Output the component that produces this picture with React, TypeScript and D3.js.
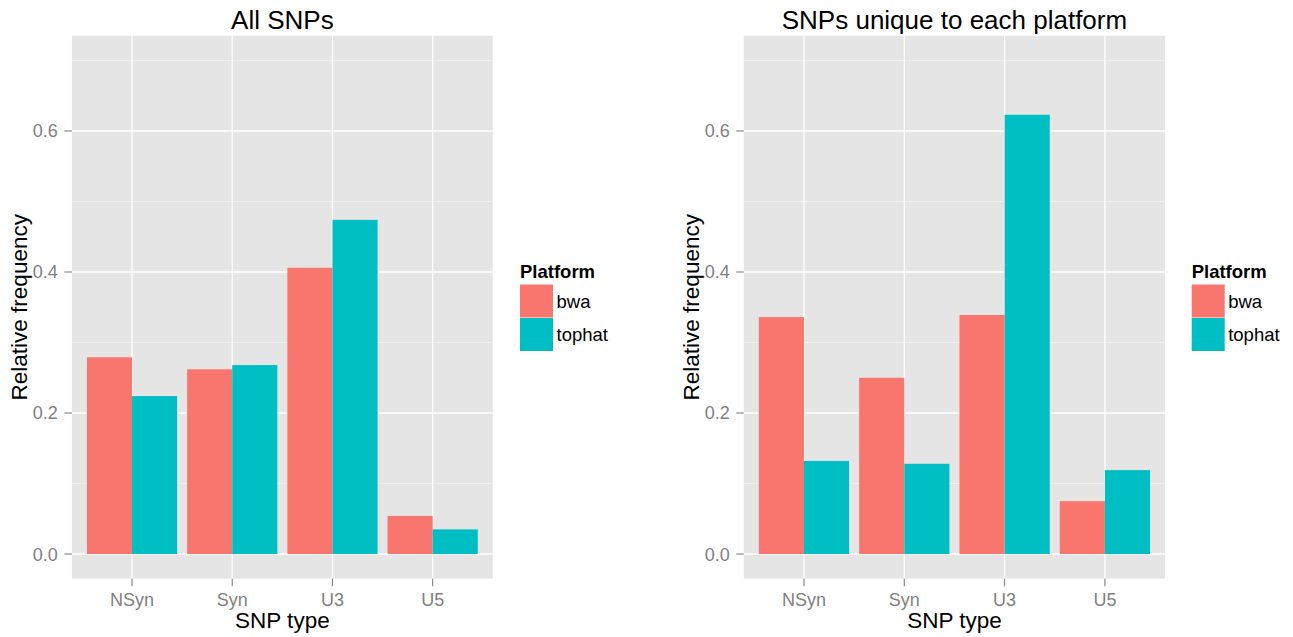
import React from "react";
import * as d3 from "d3";

const snpTypes = ["NSyn", "Syn", "U3", "U5"];
const platforms = ["bwa", "tophat"];
const platformColors = ["#F8766D", "#00BFC4"];

// Relative frequencies, all SNPs
const allBwa = [0.279, 0.262, 0.406, 0.054];
const allTophat = [0.224, 0.268, 0.474, 0.035];

// Relative frequencies, SNPs unique to each platform
const uniqueBwa = [0.336, 0.250, 0.339, 0.075];
const uniqueTophat = [0.132, 0.128, 0.623, 0.119];

const yTicks = [0, 0.2, 0.4, 0.6];
const yMinor = [0.1, 0.3, 0.5, 0.7];
const yLimits = [0, 0.7];

const panelTitles = ["All SNPs", "SNPs unique to each platform"];
const xTitle = "SNP type";
const yTitle = "Relative frequency";
const legendTitle = "Platform";

const W = 1293;
const H = 637;
const FONT = "'Liberation Sans', Arial, Helvetica, sans-serif";

type PanelProps = {
  left: number;
  width: number;
  top: number;
  height: number;
  title: string;
  series: number[][];
};

function Panel({ left, width, top, height, title, series }: PanelProps) {
  const span = yLimits[1] - yLimits[0];
  const y = d3
    .scaleLinear()
    .domain([yLimits[0] - 0.05 * span, yLimits[1] + 0.05 * span])
    .range([top + height, top]);
  const x = d3
    .scalePoint<string>()
    .domain(snpTypes)
    .range([left, left + width])
    .padding(0.6);
  const step = x.step();
  const dodge = d3
    .scaleBand<string>()
    .domain(platforms)
    .range([-0.45 * step, 0.45 * step]);

  const cx = left + width / 2;
  const bottom = top + height;

  return (
    <g>
      <rect x={left} y={top} width={width} height={height} fill="#E5E5E5" />
      {yMinor.map((v) => (
        <line
          key={"mn" + v}
          x1={left}
          x2={left + width}
          y1={y(v)}
          y2={y(v)}
          stroke="#F2F2F2"
          strokeWidth={0.8}
        />
      ))}
      {yTicks.map((v) => (
        <line
          key={"mj" + v}
          x1={left}
          x2={left + width}
          y1={y(v)}
          y2={y(v)}
          stroke="#FFFFFF"
          strokeWidth={1.3}
        />
      ))}
      {snpTypes.map((c) => (
        <line
          key={"vx" + c}
          x1={x(c)}
          x2={x(c)}
          y1={top}
          y2={bottom}
          stroke="#FFFFFF"
          strokeWidth={1.3}
        />
      ))}
      {snpTypes.map((c, i) =>
        platforms.map((p, j) => {
          const v = series[j][i];
          return (
            <rect
              key={c + p}
              x={(x(c) as number) + (dodge(p) as number)}
              width={dodge.bandwidth()}
              y={y(v)}
              height={y(0) - y(v)}
              fill={platformColors[j]}
            />
          );
        })
      )}
      {/* y axis ticks and labels */}
      {yTicks.map((v) => (
        <g key={"yt" + v}>
          <line
            x1={left - 7.5}
            x2={left}
            y1={y(v)}
            y2={y(v)}
            stroke="#7F7F7F"
            strokeWidth={1.1}
          />
          <text
            x={left - 14}
            y={y(v)}
            dy="0.36em"
            textAnchor="end"
            fontSize={18}
            fill="#7F7F7F"
            fontFamily={FONT}
          >
            {d3.format(".1f")(v)}
          </text>
        </g>
      ))}
      {/* x axis ticks and labels */}
      {snpTypes.map((c) => (
        <g key={"xt" + c}>
          <line
            x1={x(c)}
            x2={x(c)}
            y1={bottom}
            y2={bottom + 7.5}
            stroke="#7F7F7F"
            strokeWidth={1.1}
          />
          <text
            x={x(c)}
            y={bottom + 27.5}
            textAnchor="middle"
            fontSize={18}
            fill="#7F7F7F"
            fontFamily={FONT}
          >
            {c}
          </text>
        </g>
      ))}
      <text
        x={cx}
        y={top - 6.5}
        textAnchor="middle"
        fontSize={26}
        fill="#000"
        fontFamily={FONT}
      >
        {title}
      </text>
      <text
        x={cx}
        y={bottom + 49}
        textAnchor="middle"
        fontSize={22.5}
        fill="#000"
        fontFamily={FONT}
      >
        {xTitle}
      </text>
      <text
        transform={`translate(${left - 45},${top + height / 2}) rotate(-90)`}
        textAnchor="middle"
        fontSize={22.5}
        fill="#000"
        fontFamily={FONT}
      >
        {yTitle}
      </text>
    </g>
  );
}

function Legend({ x, y }: { x: number; y: number }) {
  const key = 33;
  return (
    <g>
      <text
        x={x}
        y={y}
        fontSize={18.5}
        fontWeight="bold"
        fill="#000"
        fontFamily={FONT}
      >
        {legendTitle}
      </text>
      {platforms.map((p, i) => (
        <g key={p}>
          <rect
            x={x}
            y={y + 6.5 + i * (key + 0.5)}
            width={key}
            height={key}
            fill={platformColors[i]}
          />
          <text
            x={x + key + 3.5}
            y={y + 6.5 + i * (key + 0.5) + key / 2}
            dy="0.36em"
            fontSize={18.5}
            fill="#000"
            fontFamily={FONT}
          >
            {p}
          </text>
        </g>
      ))}
    </g>
  );
}

export default function App() {
  const top = 35.8;
  const height = 542.9;
  return (
    <svg
      width={W}
      height={H}
      style={{ position: "absolute", left: 0, top: 0, background: "#fff" }}
    >
      <rect x={0} y={0} width={W} height={H} fill="#fff" />
      <Panel
        left={71.9}
        width={420.9}
        top={top}
        height={height}
        title={panelTitles[0]}
        series={[allBwa, allTophat]}
      />
      <Legend x={520} y={278} />
      <Panel
        left={743.8}
        width={421.3}
        top={top}
        height={height}
        title={panelTitles[1]}
        series={[uniqueBwa, uniqueTophat]}
      />
      <Legend x={1191.7} y={278} />
    </svg>
  );
}
